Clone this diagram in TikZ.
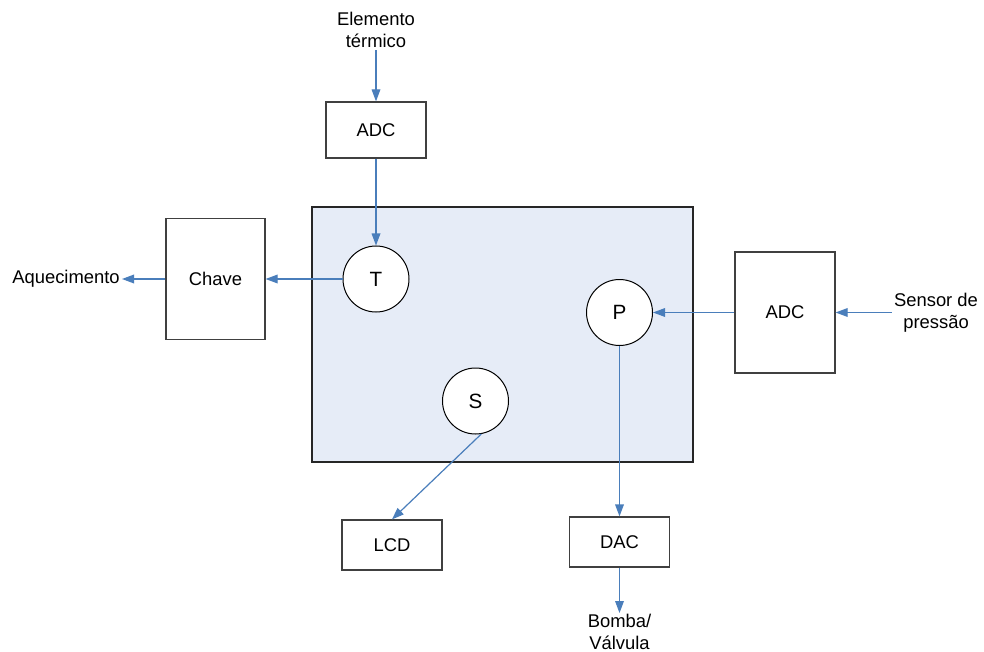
\documentclass[tikz,border=0pt]{standalone}
\usepackage{fontspec}
\setmainfont{Liberation Sans}
\usetikzlibrary{arrows.meta}
\definecolor{arrowblue}{HTML}{4A7EBB}
\definecolor{panelfill}{HTML}{E6ECF7}
\definecolor{edge}{HTML}{404040}
\begin{document}
\begin{tikzpicture}[x=0.75pt,y=-0.75pt,
  font=\fontsize{13.8}{16.5}\selectfont,
  box/.style={draw=edge,line width=0.9pt,fill=white,rectangle,inner sep=0pt},
  circ/.style={draw=black,line width=0.75pt,fill=white,circle,minimum size=49.5pt,inner sep=0pt,
    font=\fontsize{15.5}{18}\selectfont},
  lbl/.style={align=center,inner sep=1.5pt},
  conn/.style={draw=arrowblue,line width=0.9pt,-{Triangle[length=9pt,width=6.5pt]}}]
\useasboundingbox (0,0) rectangle (984,652);
\fill[white] (0,0) rectangle (984,652);
% main controller panel
\node[draw=black!85,line width=0.8pt,fill=panelfill,rectangle,inner sep=0pt,
      minimum width=285.75pt,minimum height=191.25pt] (mcu) at (502.5,334.5) {};
% boxes
\node[box,minimum width=75pt,minimum height=42pt] (adct) at (376,130) {ADC};
\node[box,minimum width=74.25pt,minimum height=90.75pt] (chave) at (215.5,279) {Chave};
\node[box,minimum width=75pt,minimum height=90.75pt] (adcp) at (785,312.5) {ADC};
\node[box,minimum width=75pt,minimum height=37.5pt] (lcd) at (392,545) {LCD};
\node[box,minimum width=75pt,minimum height=37.5pt] (dac) at (619.5,542) {DAC};
% circles
\node[circ] (T) at (376,279) {T};
\node[circ] (P) at (619.5,312.5) {P};
\node[circ] (S) at (475.5,401) {S};
% labels
\node[lbl] (elem) at (376,30) {Elemento\\térmico};
\node[lbl,anchor=east] (aq) at (122,279) {Aquecimento};
\node[lbl] (sens) at (936,312.5) {Sensor de\\pressão};
\node[lbl,anchor=north,inner sep=0.5pt] (bomba) at (619.5,613) {Bomba/\\Válvula};
% connectors
\draw[conn] (elem.south) -- (adct.north);
\draw[conn] (adct.south) -- (T.north);
\draw[conn] (T.west) -- (chave.east);
\draw[conn] (chave.west) -- (aq.east);
\draw[conn] (sens.west) -- (adcp.east);
\draw[conn] (adcp.west) -- (P.east);
\draw[conn] (P.south) -- (dac.north);
\draw[conn] (dac.south) -- (bomba.north);
\draw[conn] (S.-80) -- (lcd.north);
\end{tikzpicture}
\end{document}
